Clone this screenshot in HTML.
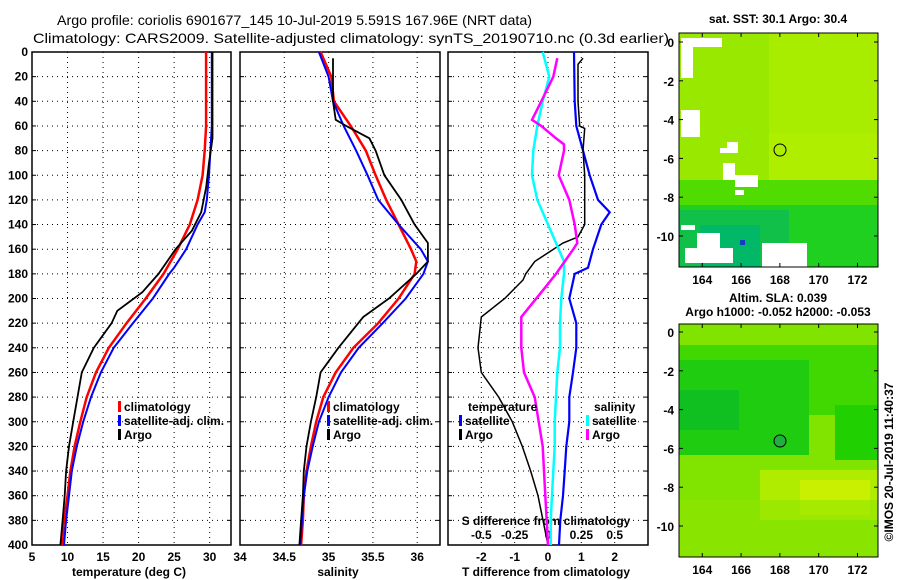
<!DOCTYPE html>
<html><head><meta charset="utf-8"><style>
html,body{margin:0;padding:0;background:#fff}
svg{display:block;font-family:"Liberation Sans",sans-serif}
.t{font-size:12px;font-weight:bold;fill:#000}
</style></head><body>
<svg id="c" width="900" height="580" viewBox="0 0 900 580" xmlns="http://www.w3.org/2000/svg">
<text x="57" y="25" font-size="14" textLength="475" lengthAdjust="spacingAndGlyphs">Argo profile: coriolis 6901677_145 10-Jul-2019 5.591S 167.96E (NRT data)</text>
<text x="33" y="43" font-size="14" textLength="636" lengthAdjust="spacingAndGlyphs">Climatology: CARS2009. Satellite-adjusted climatology: synTS_20190710.nc (0.3d earlier)</text>
<g id="maps">
<text class="t" x="778" y="23" text-anchor="middle">sat. SST: 30.1 Argo: 30.4</text>
<svg x="679" y="33" width="199" height="234" viewBox="679 33 199 234">
<rect x="679" y="33" width="199" height="234" fill="#b0ee00"/>
<rect x="679" y="33" width="90" height="150" fill="#98e800"/>
<rect x="769" y="33" width="109" height="100" fill="#a8ec00"/>
<rect x="840" y="200" width="38" height="30" fill="#40d800"/>
<rect x="679" y="180" width="199" height="25" fill="#50dc00"/>
<rect x="679" y="205" width="199" height="62" fill="#20d020"/>
<rect x="679" y="210" width="110" height="57" fill="#10c048"/>
<rect x="700" y="225" width="60" height="42" fill="#00b868"/>
<rect x="681" y="38" width="41" height="9" fill="#fff"/>
<rect x="681" y="47" width="12" height="31" fill="#fff"/>
<rect x="681" y="110" width="19" height="27" fill="#fff"/>
<rect x="727" y="142" width="11" height="11" fill="#fff"/>
<rect x="720" y="148" width="18" height="5" fill="#fff"/>
<rect x="723" y="163" width="12" height="17" fill="#fff"/>
<rect x="735" y="175" width="23" height="12" fill="#fff"/>
<rect x="735" y="190" width="9" height="5" fill="#fff"/>
<rect x="681" y="225" width="14" height="5" fill="#fff"/>
<rect x="685" y="248" width="48" height="15" fill="#fff"/>
<rect x="697" y="233" width="23" height="15" fill="#fff"/>
<rect x="762" y="243" width="45" height="24" fill="#fff"/>
<rect x="740" y="240" width="5" height="5" fill="#1040c0"/>
</svg>
<rect x="679" y="33" width="199" height="234" fill="none" stroke="#000"/>
<circle cx="780" cy="150" r="6" fill="none" stroke="#000"/>
<text class="t" x="778" y="302" text-anchor="middle">Altim. SLA: 0.039</text>
<text class="t" x="778" y="316" text-anchor="middle">Argo h1000: -0.052 h2000: -0.053</text>
<svg x="679" y="324" width="199" height="233" viewBox="679 324 199 233">
<rect x="679" y="324" width="199" height="233" fill="#80e400"/>
<rect x="679" y="345" width="199" height="70" fill="#40d800"/>
<rect x="679" y="360" width="130" height="95" fill="#20cc10"/>
<rect x="679" y="390" width="60" height="40" fill="#10c020"/>
<rect x="835" y="405" width="43" height="55" fill="#20d000"/>
<rect x="760" y="470" width="118" height="50" fill="#b0ec00"/>
<rect x="800" y="480" width="70" height="35" fill="#c8f000"/>
<rect x="679" y="500" width="199" height="57" fill="#90e600" opacity="0.6"/>
</svg>
<rect x="679" y="324" width="199" height="233" fill="none" stroke="#000"/>
<circle cx="780" cy="441" r="6" fill="#20b040" stroke="#000"/>
<text class="t" transform="translate(893,462) rotate(-90)" text-anchor="middle" font-weight="normal">©IMOS 20-Jul-2019 11:40:37</text>
</g>
<g id="plots"></g>
</svg>
<script>
// ---- data ----
const tempP = [0,20,60,80,100,120,140,160,180,200,220,240,260,280,300,320,340,360,380,400];
const tempClim = [29.5,29.5,29.5,29.3,29.0,28.3,27.2,25.5,23.5,21.0,18.3,15.8,14.0,12.7,11.8,11.0,10.4,10.0,9.5,9.2];
const satTP = [0,60,80,100,120,130,140,160,175,180,200,220,240,260,280,300,320,340,360,380,400];
const tempSat = [30.3,30.3,30.1,29.9,29.6,29.3,28.3,26.7,25.0,24.3,22.0,19.2,16.5,14.7,13.3,12.2,11.3,10.6,10.2,9.8,9.5];
const argoTP = [0,70,90,110,130,145,160,180,195,210,220,240,260,280,300,320,340,360,380,400];
const tempArgo = [30.4,30.4,29.9,29.5,28.8,27.5,25.2,22.8,20.5,17.0,16.2,13.7,12.0,11.4,10.8,10.2,9.8,9.6,9.3,9.0];
const salP = [0,20,40,60,80,100,120,140,160,170,180,200,220,240,260,280,300,320,340,360,380,400];
const salClim = [34.91,35.03,35.06,35.25,35.42,35.53,35.65,35.79,35.93,35.99,35.97,35.79,35.56,35.28,35.08,34.94,34.86,34.80,34.75,34.72,34.71,34.69];
const salSat = [34.89,35.0,35.05,35.17,35.31,35.44,35.56,35.79,36.04,36.12,36.07,35.87,35.61,35.34,35.14,35.0,34.89,34.82,34.76,34.72,34.70,34.68];
const argoSP = [5,20,40,55,60,70,80,100,120,140,155,170,180,200,215,240,260,280,300,320,340,360,380,400];
const salArgo = [35.05,35.05,35.05,35.08,35.2,35.46,35.53,35.63,35.82,35.97,36.12,36.12,35.99,35.68,35.39,35.11,34.91,34.86,34.8,34.75,34.72,34.71,34.69,34.67];
const dTSatP = [0,40,60,80,100,120,130,140,160,175,180,200,220,240,260,280,300,320,340,360,380,400];
const dTSat = [0.78,0.8,0.85,1.05,1.25,1.5,1.85,1.6,1.35,1.2,0.8,0.64,0.85,0.85,0.75,0.64,0.64,0.55,0.5,0.45,0.37,0.33];
const dTArgoP = [5,10,40,60,62,80,100,140,150,155,170,180,185,200,215,240,260,280,300,320,340,360,380,400];
const dTArgo = [1.05,0.9,0.9,0.95,1.1,1.05,1.1,1.1,0.9,0.45,-0.4,-0.67,-0.75,-1.3,-2.0,-2.1,-2.0,-1.48,-1.07,-0.77,-0.52,-0.3,-0.15,0];
const dSSatP = [0,20,40,60,80,100,120,140,155,170,180,200,220,240,260,280,300,320,340,360,380,400];
const dSSat = [-0.04,0.01,-0.04,-0.08,-0.11,-0.12,-0.08,0,0.06,0.12,0.12,0.1,0.09,0.09,0.07,0.06,0.05,0.05,0.04,0.03,0.02,0.02];
const dSArgoP = [5,20,40,55,60,70,75,80,100,120,140,155,160,180,195,215,240,260,280,300,320,340,360,380,400];
const dSArgo = [0.07,0.04,-0.05,-0.12,-0.05,0.06,0.12,0.12,0.08,0.16,0.2,0.22,0.19,0.06,-0.05,-0.2,-0.2,-0.18,-0.1,-0.07,-0.04,-0.03,-0.02,-0.01,0];
const pTicks = [0,20,40,60,80,100,120,140,160,180,200,220,240,260,280,300,320,340,360,380,400];
const tTicks = [5,10,15,20,25,30];
const sTicks = [34,34.5,35,35.5,36];
const dtTicks = [-2,-1,0,1,2];
const dsTicks = [-0.5,-0.25,0,0.25,0.5];
const lonTicks = [164,166,168,170,172];
const latTicks = [0,-2,-4,-6,-8,-10];

const NS='http://www.w3.org/2000/svg';
const g=document.getElementById('plots');
function mk(tag,at,parent){const e=document.createElementNS(NS,tag);for(const k in at)e.setAttribute(k,at[k]);(parent||g).appendChild(e);return e;}
const Y0=52,Y1=545;
const yP=p=>Y0+(p/400)*(Y1-Y0);
const panels=[{x0:32,x1:231,lo:5,hi:33},{x0:240,x1:440,lo:34,hi:36.257},{x0:448,x1:648,lo:-3,hi:3}];
const sx=(pn,v)=>pn.x0+(v-pn.lo)/(pn.hi-pn.lo)*(pn.x1-pn.x0);
const dsx=v=>sx(panels[2],v*4);

function line(xs,ps,fx,color,w,name){
  const pts=xs.map((v,i)=>fx(v).toFixed(1)+','+yP(ps[i]).toFixed(1)).join(' ');
  const e=mk('polyline',{points:pts,fill:'none',stroke:color,'stroke-width':w});
  
  
}
function txt(x,y,s,anchor,name,extra){
  const e=mk('text',Object.assign({x:x,y:y,class:'t','text-anchor':anchor||'middle'},extra||{}));
  e.textContent=s;
  
  
  return e;
}
panels.forEach((pn,i)=>{
  const xt = i===0?tTicks:(i===1?sTicks:dtTicks);
  pTicks.forEach(p=>{
    const e=mk('line',{x1:pn.x0,x2:pn.x1,y1:yP(p),y2:yP(p),stroke:'#000','stroke-dasharray':'1,4','stroke-width':1});
    
    
    mk('line',{x1:pn.x0,x2:pn.x0+4,y1:yP(p),y2:yP(p),stroke:'#000'});
    mk('line',{x1:pn.x1-4,x2:pn.x1,y1:yP(p),y2:yP(p),stroke:'#000'});
  });
  xt.forEach(v=>{
    const x=sx(pn,v);
    const e=mk('line',{x1:x,x2:x,y1:Y0,y2:Y1,stroke:'#000','stroke-dasharray':'1,4','stroke-width':1});
    
    
    txt(x,561,String(v),'middle','x-tick-label');
  });
  const r=mk('rect',{x:pn.x0,y:Y0,width:pn.x1-pn.x0,height:Y1-Y0,fill:'none',stroke:'#000','stroke-width':1.5});
  
  
});
pTicks.forEach(p=>txt(28,yP(p)+4,String(p),'end','y-tick-label'));
txt(129,576,'temperature (deg C)','middle','temperature-axis-title');
txt(338,576,'salinity','middle','salinity-axis-title');
txt(546,576,'T difference from climatology','middle','t-diff-axis-title');
txt(546,525,'S difference from climatology','middle','s-diff-axis-title');
dsTicks.forEach(v=>txt(dsx(v),539,String(v),'middle','s-diff-tick-label'));

const P0=panels[0],P1=panels[1];
line(tempClim,tempP,v=>sx(P0,v),'#f00',2.5,'temp-climatology-line');
line(tempSat,satTP,v=>sx(P0,v),'#00f',2,'temp-satellite-line');
line(tempArgo,argoTP,v=>sx(P0,v),'#000',1.8,'temp-argo-line');
line(salClim,salP,v=>sx(P1,v),'#f00',2.5,'sal-climatology-line');
line(salSat,salP,v=>sx(P1,v),'#00f',2,'sal-satellite-line');
line(salArgo,argoSP,v=>sx(P1,v),'#000',1.8,'sal-argo-line');
line(dTSat,dTSatP,v=>sx(panels[2],v),'#00f',2.2,'tdiff-satellite-line');
line(dTArgo,dTArgoP,v=>sx(panels[2],v),'#000',1.5,'tdiff-argo-line');
line(dSSat,dSSatP,dsx,'#0ff',2.5,'sdiff-satellite-line');
line(dSArgo,dSArgoP,dsx,'#f0f',2.5,'sdiff-argo-line');

function legend(x,y,items,name){
  items.forEach((it,k)=>{
    const yy=y+k*14;
    mk('rect',{x:x,y:yy-10,width:3,height:11,fill:it[1]});
    txt(x+6,yy,it[0],'start',name);
  });
}
legend(118,411,[['climatology','#f00'],['satellite-adj. clim.','#00f'],['Argo','#000']],'temp-legend-entry');
legend(327,411,[['climatology','#f00'],['satellite-adj. clim.','#00f'],['Argo','#000']],'sal-legend-entry');
txt(468,411,'temperature','start','tdiff-legend-title');
legend(459,425,[['satellite','#00f'],['Argo','#000']],'tdiff-legend-entry');
txt(594,411,'salinity','start','sdiff-legend-title');
legend(586,425,[['satellite','#0ff'],['Argo','#f0f']],'sdiff-legend-entry');

// map axes
const lonX=lon=>679+(lon-162.8)*19.4;
[[33,267,42],[324,557,332]].forEach(m=>{
  lonTicks.forEach(l=>{
    const x=lonX(l);
    mk('line',{x1:x,x2:x,y1:m[1],y2:m[1]-4,stroke:'#000'});
    mk('line',{x1:x,x2:x,y1:m[0],y2:m[0]+4,stroke:'#000'});
    txt(x,m[1]+17,String(l),'middle','map-lon-tick-label');
  });
  latTicks.forEach(l=>{
    const y=m[2]-l*19.4;
    mk('line',{x1:679,x2:683,y1:y,y2:y,stroke:'#000'});
    mk('line',{x1:874,x2:878,y1:y,y2:y,stroke:'#000'});
    txt(674,y+5,String(l),'end','map-lat-tick-label');
  });
});
</script>
</body></html>
